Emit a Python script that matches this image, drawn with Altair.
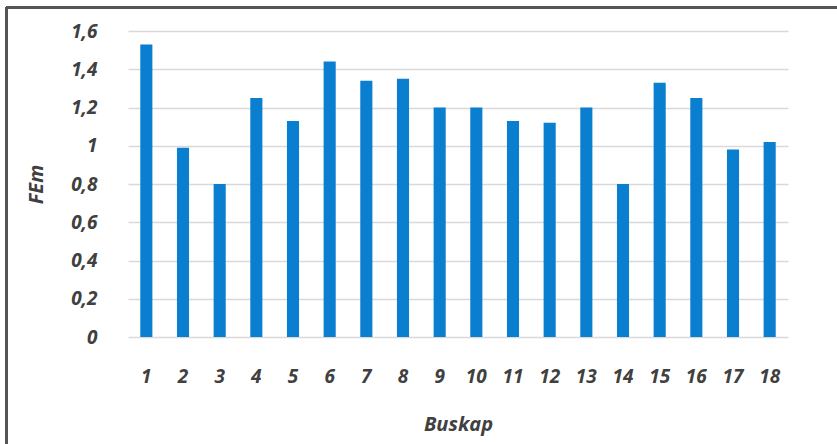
import altair as alt
import pandas as pd

# Feed units (FEm) per livestock group
buskap = [str(i) for i in range(1, 19)]
fem = [1.53, 0.99, 0.80, 1.25, 1.13, 1.44, 1.34, 1.35, 1.20,
       1.20, 1.13, 1.12, 1.20, 0.80, 1.33, 1.25, 0.98, 1.02]
y_ticks = [0, 0.2, 0.4, 0.6, 0.8, 1.0, 1.2, 1.4, 1.6]

df = pd.DataFrame({"Buskap": buskap, "FEm": fem})

FONT = "Open Sans"
TXT = "#404040"

bars = alt.Chart(df).mark_bar(color="#0a7ecf").encode(
    x=alt.X(
        "Buskap:N",
        sort=buskap,
        scale=alt.Scale(paddingInner=0.67, paddingOuter=0.335),
        axis=alt.Axis(
            title="Buskap",
            labelAngle=0,
            labelFont=FONT,
            labelFontSize=19,
            labelFontStyle="italic",
            labelFontWeight="bold",
            labelColor=TXT,
            labelPadding=30,
            ticks=False,
            domain=False,
            titleFont=FONT,
            titleFontSize=20,
            titleFontStyle="italic",
            titleFontWeight="bold",
            titleColor=TXT,
            titlePadding=28,
        ),
    ),
    y=alt.Y(
        "FEm:Q",
        scale=alt.Scale(domain=[0, 1.6], nice=False),
        axis=alt.Axis(
            title="FEm",
            values=y_ticks,
            labelExpr="replace(format(datum.value, '.1~f'), '.', ',')",
            labelFont=FONT,
            labelFontSize=19,
            labelFontStyle="italic",
            labelFontWeight="bold",
            labelColor=TXT,
            labelPadding=31,
            ticks=False,
            domain=False,
            gridColor="#d9d9d9",
            gridWidth=1.5,
            titleFont=FONT,
            titleFontSize=20,
            titleFontStyle="italic",
            titleFontWeight="bold",
            titleColor=TXT,
            titlePadding=24,
        ),
    ),
)

# Outer frame lines (top and left edges of the figure box)
frame_top = alt.Chart(df).mark_rule(color="#555555", strokeWidth=2).encode(
    x=alt.value(-122), x2=alt.value(709), y=alt.value(-23.5)
)
frame_left = alt.Chart(df).mark_rule(color="#555555", strokeWidth=2).encode(
    x=alt.value(-121.5), y=alt.value(-24), y2=alt.value(420)
)

chart = (
    alt.layer(bars, frame_top, frame_left)
    .properties(
        width=660,
        height=306,
        autosize=alt.AutoSizeParams(type="none"),
        padding={"left": 128, "top": 31, "right": 49, "bottom": 107},
        background="white",
    )
    .configure_view(stroke=None)
)

chart.save("out.html", embed_options={"renderer": "svg", "actions": False})
